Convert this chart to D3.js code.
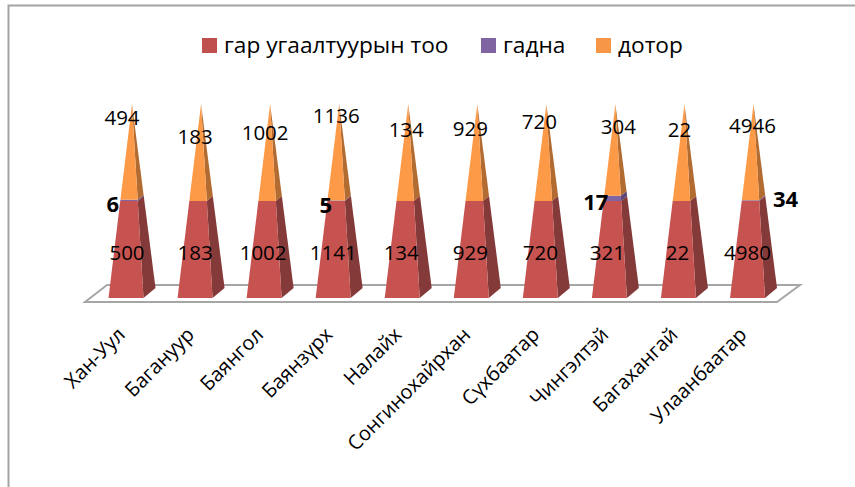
<!DOCTYPE html>
<html>
<head>
<meta charset="utf-8">
<script src="https://cdn.jsdelivr.net/npm/d3@7"></script>
<style>
    body { margin: 0; background: #fff; }
    svg { display: block; }
    text { font-family: "Open Sans", sans-serif; fill: #000; }
</style>
</head>
<body>
<svg></svg>
<script>
let districts = ["Хан-Уул", "Багануур", "Баянгол", "Баянзүрх", "Налайх", "Сонгинохайрхан", "Сүхбаатар", "Чингэлтэй", "Багахангай", "Улаанбаатар"];
let totals = [500, 183, 1002, 1141, 134, 929, 720, 321, 22, 4980];
let outside = [6, 0, 0, 5, 0, 0, 0, 17, 0, 34];
let inside = [494, 183, 1002, 1136, 134, 929, 720, 304, 22, 4946];
let seriesNames = ["гар угаалтуурын тоо", "гадна", "дотор"];

// label nudges from the middle of each pyramid, these don't follow any rule in the original
let totalNudgeX = [1, 0, -1, 0, -1, -1, 0, -2, -1, 0];
let insideNudgeX = [-4, 0, 1, 3, 4, -1, -1, 9, 1, 5];
let insideLabelY = [125, 144, 140, 123, 137, 136, 129, 134, 137, 133];
let outsideNudgeX = [-7, 0, 0, -1, 0, 0, 0, -1, 0, 25.5];
let outsideLabelY = [212, 0, 0, 213, 0, 0, 0, 210, 0, 207];

let width = 855;
let height = 487;
let baseY = 298;
let apexY = 104;
let halfBase = 17.5;
let depthX = 12;
let depthY = 10;

let front = ["#c65350", "#8064a2", "#fc9a48"];
let side = ["#853a3a", "#5c4878", "#b26b30"];

let svg = d3.select("svg")
    .attr("width", width)
    .attr("height", height);

// frame of the chart, bottom and right are cut off in the picture
svg.append("path")
    .attr("d", "M8.5,487V5.5H855")
    .attr("fill", "none")
    .attr("stroke", "#a3a3a3")
    .attr("stroke-width", 2);

let xScale = d3.scalePoint()
    .domain(districts)
    .range([126, 747.5]);

let yScale = d3.scaleLinear()
    .domain([0, 1])
    .range([baseY, apexY]);

// floor
svg.append("path")
    .attr("d", d3.line()([[85, 302], [107, 285], [800, 285], [777, 302]]) + "Z")
    .attr("fill", "#fff")
    .attr("stroke", "#a6a6a6")
    .attr("stroke-width", 2);

let rows = districts.map((d, i) => ({ name: d, a: totals[i], b: outside[i], c: inside[i] }));
let stacked = d3.stack()
    .keys(["a", "b", "c"])
    .offset(d3.stackOffsetExpand)(rows);

// corners of the pyramid cut at height t
function corners(name, t) {
    let cx = xScale(name);
    let apexX = cx + depthX / 2;
    let y = yScale(t);
    return {
        left: [cx - halfBase + (apexX - cx + halfBase) * t, y],
        right: [cx + halfBase + (apexX - cx - halfBase) * t, y],
        back: [cx + halfBase + depthX + (apexX - cx - halfBase - depthX) * t, y - depthY * (1 - t)]
    };
}

let line = d3.line();
let groups = svg.selectAll("g.series")
    .data(stacked)
    .enter()
    .append("g")
    .classed("series", true);

groups.selectAll("path.side")
    .data(s => s.map(d => ({ d, i: s.index })))
    .enter()
    .append("path")
    .classed("side", true)
    .attr("fill", p => side[p.i])
    .attr("d", p => {
        let low = corners(p.d.data.name, p.d[0]);
        let high = corners(p.d.data.name, p.d[1]);
        return line([low.right, low.back, high.back, high.right]) + "Z";
    });

groups.selectAll("path.front")
    .data(s => s.map(d => ({ d, i: s.index })))
    .enter()
    .append("path")
    .classed("front", true)
    .attr("fill", p => front[p.i])
    .attr("d", p => {
        let low = corners(p.d.data.name, p.d[0]);
        let high = corners(p.d.data.name, p.d[1]);
        return line([low.left, low.right, high.right, high.left]) + "Z";
    });

// x axis with the slanted names
let xAxis = d3.axisBottom(xScale).tickSize(0).tickPadding(0);
let axisG = svg.append("g")
    .attr("transform", "translate(-5, 331)")
    .call(xAxis);
axisG.select(".domain").remove();
axisG.selectAll("text")
    .attr("font-size", 20)
    .style("font-family", "'Open Sans', sans-serif")
    .style("fill", "#000")
    .attr("text-anchor", "end")
    .attr("dy", "0.35em")
    .attr("y", 0)
    .attr("transform", "rotate(-45)");

// labels
svg.selectAll("text.total")
    .data(totals)
    .enter()
    .append("text")
    .classed("total", true)
    .attr("x", (d, i) => xScale(districts[i]) + totalNudgeX[i])
    .attr("y", 260)
    .attr("font-size", 20.5)
    .attr("text-anchor", "middle")
    .text(d => d);

svg.selectAll("text.inside")
    .data(inside)
    .enter()
    .append("text")
    .classed("inside", true)
    .attr("x", (d, i) => xScale(districts[i]) + insideNudgeX[i])
    .attr("y", (d, i) => insideLabelY[i])
    .attr("font-size", 20.5)
    .attr("text-anchor", "middle")
    .text(d => d);

// bold labels only where the value is not zero, the big one sits on the other side
svg.selectAll("text.outside")
    .data(outside.map((d, i) => ({ d, i })).filter(o => o.d > 0))
    .enter()
    .append("text")
    .classed("outside", true)
    .attr("x", o => xScale(districts[o.i]) + outsideNudgeX[o.i])
    .attr("y", o => outsideLabelY[o.i])
    .attr("font-size", 22)
    .attr("font-weight", 700)
    .attr("text-anchor", o => outsideNudgeX[o.i] > 0 ? "start" : "end")
    .text(o => o.d);

// legend
let legendX = [202, 481, 596];
let legend = svg.selectAll("g.legend")
    .data(seriesNames)
    .enter()
    .append("g")
    .classed("legend", true)
    .attr("transform", (d, i) => "translate(" + legendX[i] + ", 38)");
legend.append("rect")
    .attr("width", 15)
    .attr("height", 15)
    .attr("fill", (d, i) => ["#c0504d", "#8064a2", "#f79646"][i]);
legend.append("text")
    .attr("x", 22)
    .attr("y", 15)
    .attr("font-size", 22.7)
    .text(d => d);
</script>
</body>
</html>
